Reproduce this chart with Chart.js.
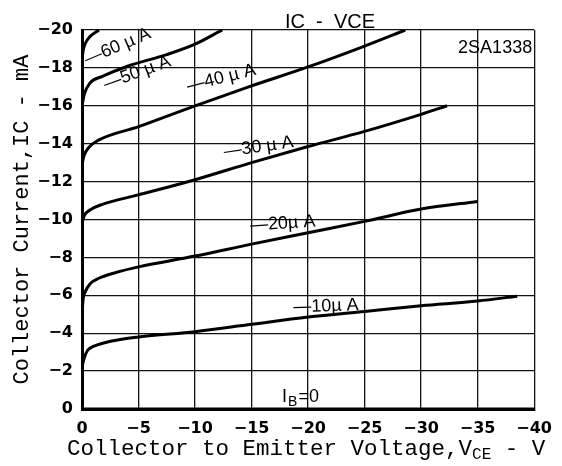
<!DOCTYPE html>
<html>
<head>
<meta charset="utf-8">
<script src="https://cdn.jsdelivr.net/npm/chart.js@4"></script>
<style>
  body { margin: 0; background: #fff; }
  canvas { display: block; }
</style>
</head>
<body>
<canvas id="icVce" width="562" height="466"></canvas>
<script>
// IC - VCE curves (V, mA)
const vce10 = [0, -0.2, -0.5, -1, -2, -5, -10, -15, -20, -25, -30, -35, -38.5];
const ic10 = [-2.2, -2.7, -3.1, -3.3, -3.5, -3.8, -4.08, -4.47, -4.85, -5.15, -5.45, -5.7, -5.95];

const vce20 = [0, -0.1, -0.3, -0.7, -1.5, -3, -5, -10, -15, -20, -25, -30, -35];
const ic20 = [-5.0, -5.8, -6.2, -6.6, -6.9, -7.2, -7.5, -8.07, -8.7, -9.3, -9.9, -10.55, -10.95];

const vce30 = [0, -0.2, -0.7, -1.8, -5, -10, -15, -20, -25, -30, -32.3];
const ic30 = [-9.8, -10.2, -10.5, -10.8, -11.3, -12.1, -13.0, -13.85, -14.65, -15.55, -16.0];

const vce40 = [0, -0.2, -0.6, -1.5, -5, -10, -15, -20, -25, -28.6];
const ic40 = [-12.9, -13.4, -13.8, -14.2, -14.9, -16.0, -17.05, -18.05, -19.15, -20.0];

const vce50 = [0, -0.2, -0.7, -1.8, -4.1, -7.5, -10, -12.4];
const ic50 = [-16.0, -16.6, -17.2, -17.55, -18.1, -18.7, -19.25, -20.0];

const vce60 = [0, -0.1, -0.3, -0.7, -1.5];
const ic60 = [-18.4, -18.9, -19.3, -19.65, -20.0];

const vce0 = [0, -40];
const ic0 = [0, 0];

const curveNames = ['−10µA', '−20µA', '−30µA', '−40µA', '−50µA', '−60µA', 'IB=0'];
const xTicks = [0, -5, -10, -15, -20, -25, -30, -35, -40];
const yTicks = [0, -2, -4, -6, -8, -10, -12, -14, -16, -18, -20];

const pairs = (xs, ys) => xs.map((x, i) => ({ x: x, y: ys[i] }));
const curves = [
  [vce10, ic10], [vce20, ic20], [vce30, ic30], [vce40, ic40],
  [vce50, ic50], [vce60, ic60], [vce0, ic0]
];

// curve labels: [text, V, mA, angle in degrees]
const notes = [
  ['—60 µ A', -0.45, -18.15, -23],
  ['—50 µ A', -2.1, -16.85, -20],
  ['—40 µ A', -9.4, -16.75, -14],
  ['—30 µ A', -12.6, -13.3, -8],
  ['—20µ A', -14.9, -9.4, -4],
  ['—10µ A', -18.7, -5.1, -2]
];

const labelPlugin = {
  id: 'labels',
  afterDraw(chart) {
    const ctx = chart.ctx;
    const xs = chart.scales.x;
    const ys = chart.scales.y;
    const area = chart.chartArea;
    ctx.save();
    ctx.fillStyle = '#000';

    // title
    ctx.font = '20px "Liberation Sans"';
    ctx.textAlign = 'center';
    ctx.textBaseline = 'alphabetic';
    ctx.fillText('IC  -  VCE', 330, 28);

    ctx.font = '18px "Liberation Sans"';
    ctx.textAlign = 'right';
    ctx.fillText('2SA1338', area.right - 2, 53);

    // curve labels
    ctx.font = '18px "Liberation Sans"';
    ctx.textAlign = 'left';
    notes.forEach(n => {
      ctx.save();
      ctx.translate(xs.getPixelForValue(n[1]), ys.getPixelForValue(n[2]));
      ctx.rotate(n[3] * Math.PI / 180);
      ctx.fillText(n[0], 0, 0);
      ctx.restore();
    });

    // IB=0
    let px = xs.getPixelForValue(-17.7);
    let py = ys.getPixelForValue(-0.35);
    ctx.fillText('I', px, py);
    let w = ctx.measureText('I').width;
    ctx.font = '14px "Liberation Sans"';
    ctx.fillText('B', px + w + 1, py + 4);
    w += ctx.measureText('B').width + 2;
    ctx.font = '18px "Liberation Sans"';
    ctx.fillText('=0', px + w, py);

    // x axis title
    ctx.font = '22.5px "Liberation Mono"';
    let x = 67;
    const base = 455;
    const t1 = 'Collector to Emitter Voltage,V';
    ctx.fillText(t1, x, base);
    x += ctx.measureText(t1).width;
    ctx.font = '16px "Liberation Mono"';
    ctx.fillText('CE', x, base + 4);
    x += ctx.measureText('CE').width;
    ctx.font = '22.5px "Liberation Mono"';
    ctx.fillText(' - V', x, base);

    // y axis title
    ctx.font = '22px "Liberation Mono"';
    ctx.translate(28, (area.top + area.bottom) / 2);
    ctx.rotate(-Math.PI / 2);
    ctx.textAlign = 'center';
    ctx.fillText('Collector Current,IC - mA', 0, 0);
    ctx.restore();
  }
};

const tickFont = { family: 'DejaVu Sans', weight: 'bold', size: 16 };
const tickText = v => v === 0 ? '0' : '−' + Math.abs(v);

new Chart(document.getElementById('icVce'), {
  type: 'scatter',
  data: {
    datasets: curves.map((c, i) => ({
      label: curveNames[i],
      data: pairs(c[0], c[1]),
      showLine: true,
      borderColor: '#000',
      borderWidth: i === 6 ? 3 : 3,
      pointRadius: 0,
      cubicInterpolationMode: 'monotone',
      fill: false
    }))
  },
  options: {
    responsive: false,
    animation: false,
    devicePixelRatio: 1,
    layout: { padding: { top: 30, right: 14, left: 0, bottom: 0 } },
    plugins: {
      legend: { display: false },
      tooltip: { enabled: false },
      title: { display: false }
    },
    scales: {
      x: {
        type: 'linear',
        min: -40,
        max: 0,
        reverse: true,
        afterFit: s => { s.height = 57; },
        afterBuildTicks: s => { s.ticks = xTicks.map(v => ({ value: v })); },
        grid: { color: '#111', lineWidth: 1.3, drawTicks: false },
        border: { color: '#000', width: 3 },
        ticks: { padding: 10, color: '#000', font: tickFont, callback: tickText }
      },
      y: {
        type: 'linear',
        min: -20,
        max: 0,
        reverse: true,
        afterFit: s => { s.width = 82; },
        afterBuildTicks: s => { s.ticks = yTicks.map(v => ({ value: v })); },
        grid: { color: '#111', lineWidth: 1.3, drawTicks: false },
        border: { color: '#000', width: 3 },
        ticks: { padding: 9, color: '#000', font: tickFont, callback: tickText }
      }
    }
  },
  plugins: [labelPlugin]
});
</script>
</body>
</html>
